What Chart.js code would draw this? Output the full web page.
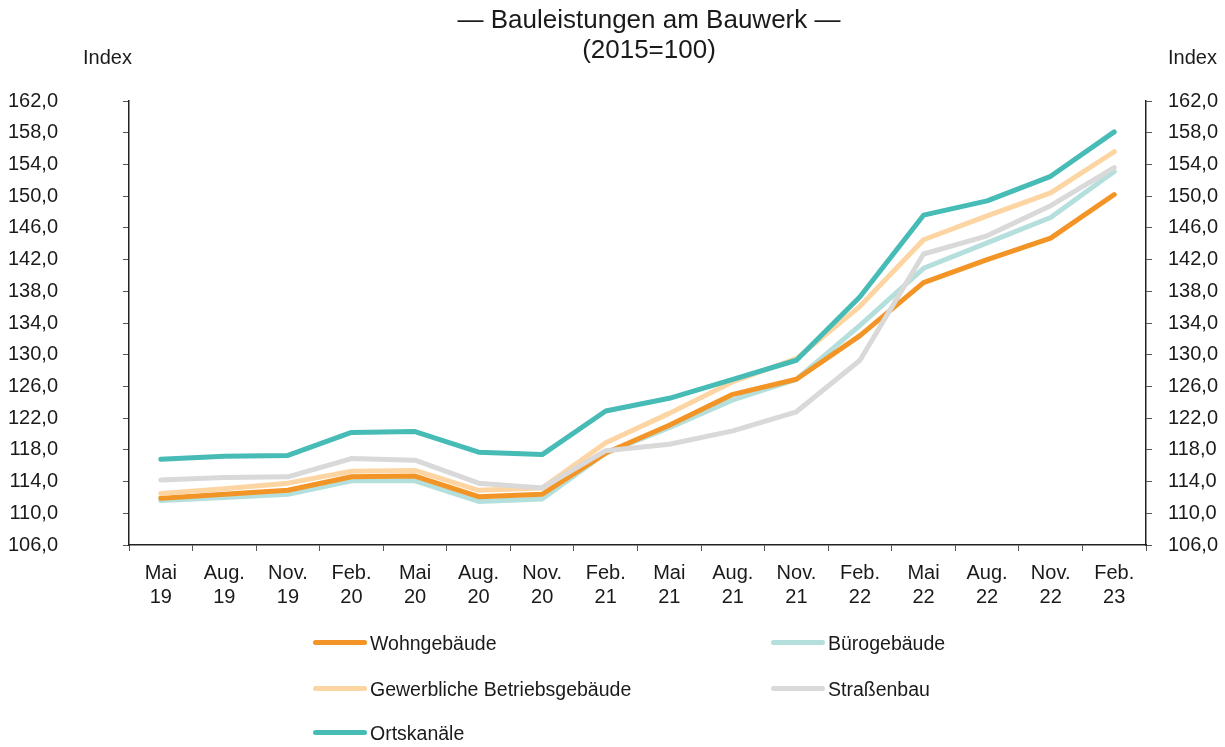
<!DOCTYPE html>
<html>
<head>
<meta charset="utf-8">
<script src="https://cdn.jsdelivr.net/npm/chart.js@4"></script>
<style>
  html, body { margin:0; padding:0; background:#fff; }
  #wrap { position:relative; width:1225px; height:747px; font-family:"Liberation Sans", Arial, sans-serif; color:#1a1a1a; }
  canvas { position:absolute; left:0; top:0; }
  .t { position:absolute; white-space:nowrap; }
  #title { left:399px; width:500px; top:4px; text-align:center; font-size:26px; line-height:30px; }
  .idx { font-size:20px; line-height:24px; top:45px; }
  .leg { position:absolute; font-size:19.5px; height:24px; line-height:24px; white-space:nowrap; }
  .leg span.l { position:absolute; left:0; top:9px; width:54px; height:5px; border-radius:3px; }
  .leg span.x { position:absolute; left:57px; top:0; }
</style>
</head>
<body>
<div id="wrap">
  <canvas id="c" width="1225" height="747"></canvas>
  <div id="title" class="t">— Bauleistungen am Bauwerk —<br>(2015=100)</div>
  <div class="t idx" style="left:83px;">Index</div>
  <div class="t idx" style="left:1168px;">Index</div>
  <div id="legend"></div>
</div>
<script>
const categories = [["Mai","19"],["Aug.","19"],["Nov.","19"],["Feb.","20"],["Mai","20"],["Aug.","20"],["Nov.","20"],["Feb.","21"],["Mai","21"],["Aug.","21"],["Nov.","21"],["Feb.","22"],["Mai","22"],["Aug.","22"],["Nov.","22"],["Feb.","23"]];

const wohngebaeude = [111.9,112.4,112.9,114.6,114.7,112.1,112.4,117.6,121.1,125.0,126.9,132.4,139.1,142.0,144.7,150.2];
const buerogebaeude = [111.6,112.0,112.4,114.1,114.1,111.5,111.8,117.6,120.8,124.3,126.9,133.7,140.9,144.1,147.3,153.1];
const gewerbliche = [112.5,113.1,113.8,115.3,115.4,112.9,113.2,118.9,122.6,126.6,129.5,136.1,144.5,147.5,150.4,155.6];
const strassenbau = [114.2,114.5,114.6,116.9,116.7,113.8,113.2,117.9,118.7,120.4,122.8,129.3,142.7,145.0,148.8,153.6];
const ortskanaele = [116.8,117.2,117.3,120.2,120.3,117.7,117.4,122.9,124.5,126.9,129.3,137.3,147.6,149.4,152.5,158.1];

const yMin = 106, yMax = 162, yStep = 4;

const seriesNames = ["Wohngebäude","Bürogebäude","Gewerbliche Betriebsgebäude","Straßenbau","Ortskanäle"];
const seriesColors = ["#F39426","#B4DFDC","#FDD5A2","#D9D9D9","#47BBB5"];
const seriesData = [wohngebaeude, buerogebaeude, gewerbliche, strassenbau, ortskanaele];
const seriesOrder = [3, 4, 2, 1, 0];

const fmt = v => v.toFixed(1).replace('.', ',');
const FONT = "'Liberation Sans', Arial, sans-serif";

new Chart(document.getElementById('c'), {
  type: 'line',
  data: {
    labels: categories,
    datasets: seriesNames.map((n, i) => ({
      label: n,
      data: seriesData[i],
      borderColor: seriesColors[i],
      backgroundColor: seriesColors[i],
      borderWidth: 5,
      pointRadius: 0,
      tension: 0,
      fill: false,
      order: seriesOrder[i],
      borderCapStyle: 'round',
      borderJoinStyle: 'round',
      yAxisID: 'y'
    }))
  },
  options: {
    responsive: false,
    animation: false,
    layout: { padding: { top: 101, bottom: 132, left: 0, right: 0 } },
    plugins: { legend: { display: false }, title: { display: false }, tooltip: { enabled: false } },
    scales: {
      x: {
        offset: true,
        grid: { offset: true, drawOnChartArea: false, tickLength: 6, color: '#333', tickColor: '#555' },
        border: { color: '#222', width: 1.5 },
        ticks: { color: '#1a1a1a', font: { family: FONT, size: 20, lineHeight: 1.2 }, padding: 10, maxRotation: 0, autoSkip: false },
        afterFit: s => { s.height = 70; }
      },
      y: {
        position: 'left',
        min: yMin, max: yMax,
        grid: { drawOnChartArea: false, tickLength: 6, tickColor: '#555' },
        border: { color: '#222', width: 1.5 },
        ticks: { stepSize: yStep, color: '#1a1a1a', font: { family: FONT, size: 20 }, padding: 65, callback: v => fmt(v) },
        afterFit: s => { s.width = 129; }
      },
      y2: {
        position: 'right',
        min: yMin, max: yMax,
        grid: { drawOnChartArea: false, tickLength: 6, tickColor: '#555' },
        border: { color: '#222', width: 1.5 },
        ticks: { stepSize: yStep, color: '#1a1a1a', font: { family: FONT, size: 20 }, padding: 16, callback: v => fmt(v) },
        afterFit: s => { s.width = 79; }
      }
    }
  }
});

// legend (HTML)
const legPos = [[313,631],[771,631],[313,677],[771,677],[313,721]];
const lg = document.getElementById('legend');
seriesNames.forEach((n, i) => {
  const d = document.createElement('div');
  d.className = 'leg';
  d.style.left = legPos[i][0] + 'px';
  d.style.top = legPos[i][1] + 'px';
  d.innerHTML = '<span class="l" style="background:' + seriesColors[i] + '"></span><span class="x">' + n + '</span>';
  lg.appendChild(d);
});
</script>
</body>
</html>
